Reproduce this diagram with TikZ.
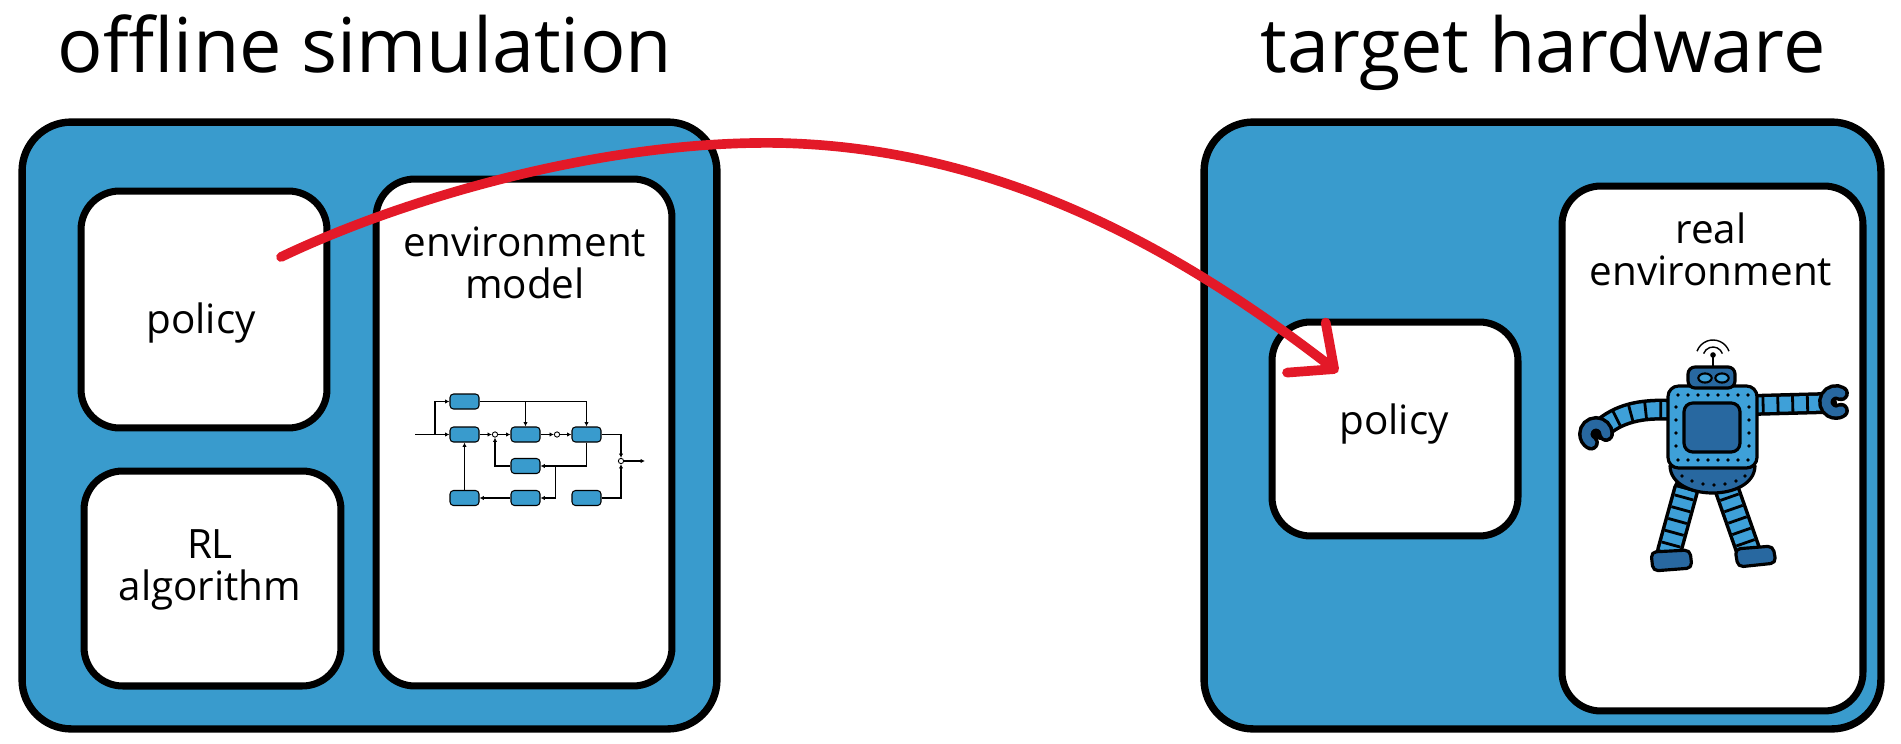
\documentclass[tikz,border=0pt]{standalone}
\usepackage{fontspec}
\setmainfont{Open Sans}
\usetikzlibrary{arrows.meta, decorations.markings, positioning}

\definecolor{simblue}{RGB}{57,155,205}
\definecolor{botlight}{RGB}{62,160,216}
\definecolor{botdark}{RGB}{40,104,160}
\definecolor{xred}{RGB}{227,25,40}

\tikzset{
  frame/.style={draw, line width=4.2pt, fill=simblue, rounded corners=28pt, inner sep=0pt},
  panel/.style={draw, line width=4pt, fill=white, rounded corners=22pt, inner sep=0pt},
  ttl/.style={font=\fontsize{43}{48}\selectfont},
  lbl/.style={font=\fontsize{23}{23.5}\selectfont, align=center},
  blk/.style={draw, line width=0.6pt, fill=simblue, rounded corners=2pt,
    minimum width=0.58cm, minimum height=0.3cm, inner sep=0pt},
  sumpt/.style={circle, draw, line width=0.5pt, fill=white, minimum size=3pt, inner sep=0pt},
  sig/.style={line width=0.6pt, -{Latex[length=2.5pt, width=2.5pt]}},
  xfer/.style={draw=xred, line width=5.5pt, line cap=round,
    -{Straight Barb[round, length=20pt, width=36pt]}},
  rob/.style={draw, line width=1.8pt, line join=round},
  stripes/.style={postaction={decorate, decoration={markings,
    mark=between positions #1 with {\draw[line width=1.6pt, black] (0,-5.5pt) -- (0,5.5pt);}}}}
}

\begin{document}
\begin{tikzpicture}[x=0.02cm, y=-0.02cm]
\useasboundingbox (0,0) rectangle (1901,744);

% titles
\node[ttl, anchor=base] (tsim) at (365,72) {offline simulation};
\node[ttl, anchor=base] (thw) at (1543,72) {target hardware};

% outer frames
\node[frame, minimum width=13.9cm, minimum height=12.14cm] (sim) at (369.5,425.5) {};
\node[frame, minimum width=13.54cm, minimum height=12.14cm] (hw) at (1542.5,425.5) {};

% panels inside the frames
\node[panel, minimum width=4.92cm, minimum height=4.74cm] (polL) at (204,309.5) {};
\node[panel, minimum width=5.14cm, minimum height=4.30cm] (rl) at (212.5,578.5) {};
\node[panel, minimum width=5.92cm, minimum height=10.14cm] (envm) at (524,432.5) {};
\node[panel, minimum width=4.92cm, minimum height=4.28cm] (polR) at (1395,429) {};
\node[panel, minimum width=6.02cm, minimum height=10.5cm] (envr) at (1712.5,448.5) {};

\node[lbl, anchor=base] (lpolL) at (201,333) {policy};
\node[lbl, anchor=base] (lrl) at (210,600) {RL\\algorithm};
\node[lbl, anchor=base] (lenvm) at (525,298) {environment\\model};
\node[lbl, anchor=base] (lpolR) at (1394,434) {policy};
\node[lbl, anchor=base] (lenvr) at (1711,285) {real\\environment};

% block diagram of the model
\node[blk] (b1) at (464.5,401.5) {};
\node[blk] (b2) at (464.5,434.5) {};
\node[blk] (b3) at (525.5,434.5) {};
\node[blk] (b4) at (586.5,434.5) {};
\node[blk] (b5) at (525.5,466) {};
\node[blk] (b6) at (464.5,498) {};
\node[blk] (b7) at (525.5,498) {};
\node[blk] (b8) at (586.5,498) {};
\node[sumpt] (s1) at (495,434.5) {};
\node[sumpt] (s2) at (557,434.5) {};
\node[sumpt] (s3) at (621,461) {};
\coordinate (in) at (415,434.5);
\coordinate (j1) at (435,434.5);
\coordinate (j3) at (555.7,466);
\coordinate (out) at (645,461);

\draw[sig] (in) -- (b2.west);
\draw[sig] (j1) |- (b1.west);
\draw[sig] (b2.east) -- (s1.west);
\draw[sig] (s1.east) -- (b3.west);
\draw[sig] (b5.west) -| (s1.south);
\draw[sig] (b3.east) -- (s2.west);
\draw[sig] (s2.east) -- (b4.west);
\draw[sig] (b1.east) -| (b4.north);
\draw[sig] (b3.north |- b1.east) -- (b3.north);
\draw[sig] (b4.south) |- (b5.east);
\draw[sig] (j3) |- (b7.east);
\draw[sig] (b7.west) -- (b6.east);
\draw[sig] (b6.north) -- (b2.south);
\draw[sig] (b4.east) -| (s3.north);
\draw[sig] (b8.east) -| (s3.south);
\draw[sig] (s3.east) -- (out);

% robot: legs and arms first
\draw[line width=15pt, line cap=round] (1686,490) -- (1669,552);
\draw[line width=11pt, botlight, stripes={0.12 and 0.9 step 0.19}] (1686,490) -- (1669,552);
\draw[line width=15pt, line cap=round] (1727,490) -- (1748,550);
\draw[line width=11pt, botlight, stripes={0.12 and 0.9 step 0.19}] (1727,490) -- (1748,550);
\draw[line width=12.5pt, line cap=round] (1672,410) .. controls (1640,408) and (1618,414) .. (1601,429);
\draw[line width=8.5pt, botlight, stripes={0.15 and 0.95 step 0.2}] (1672,410) .. controls (1640,408) and (1618,414) .. (1601,429);
\draw[line width=12.5pt, line cap=round] (1752,405) -- (1826,403);
\draw[line width=8.5pt, botlight, stripes={0.15 and 0.95 step 0.2}] (1752,405) -- (1826,403);

% hands
\draw[line width=9pt, line cap=round] (1836,402) ++(60:0.2cm) arc[start angle=60, end angle=300, radius=0.2cm];
\draw[line width=5pt, botdark, line cap=round] (1836,402) ++(60:0.2cm) arc[start angle=60, end angle=300, radius=0.2cm];
\draw[line width=9pt, line cap=round] (1596,434) ++(0:0.2cm) arc[start angle=0, end angle=240, radius=0.2cm];
\draw[line width=5pt, botdark, line cap=round] (1596,434) ++(0:0.2cm) arc[start angle=0, end angle=240, radius=0.2cm];

% feet
\filldraw[rob, fill=botdark, rounded corners=3pt] (1651,552) -- (1690,550) -- (1692,568) -- (1653,571) -- cycle;
\filldraw[rob, fill=botdark, rounded corners=3pt] (1735,549) -- (1773,546) -- (1776,563) -- (1738,567) -- cycle;

% pelvis
\filldraw[rob, fill=botdark] (1670,466) -- (1755,466) .. controls (1754,502) and (1671,502) .. (1670,466) -- cycle;
\foreach \x/\y in {1682/476,1692/481,1703/484,1714/485,1725/484,1736/481,1745/476}
  \fill (\x,\y) circle[radius=1.1pt];

% body
\filldraw[rob, fill=botlight, rounded corners=6pt] (1668,386) rectangle (1757,468);
\filldraw[rob, fill=botdark, rounded corners=5pt] (1684,403) rectangle (1740,452);
\foreach \x in {1678,1688,...,1748} {
  \fill (\x,395) circle[radius=1.1pt];
  \fill (\x,460) circle[radius=1.1pt];
}
\foreach \y in {407,420,433,446} {
  \fill (1676,\y) circle[radius=1.1pt];
  \fill (1749,\y) circle[radius=1.1pt];
}

% head and antenna
\filldraw[rob, fill=botdark, rounded corners=4pt] (1688,367) rectangle (1735,388);
\filldraw[line width=1.2pt, fill=botlight] (1705,378) ellipse[x radius=3.8pt, y radius=2.6pt];
\filldraw[line width=1.2pt, fill=botlight] (1722,378) ellipse[x radius=3.8pt, y radius=2.6pt];
\draw[line width=1.6pt] (1713,367) -- (1713,355);
\fill (1713,355) circle[radius=1.6pt];
\draw[line width=0.8pt] (1713,357) ++(20:0.2cm) arc[start angle=20, end angle=160, radius=0.2cm];
\draw[line width=0.8pt] (1713,357) ++(20:0.34cm) arc[start angle=20, end angle=160, radius=0.34cm];

% policy goes from simulation to hardware
\coordinate (src) at (281,257);
\coordinate (dst) at (1338,372);
\draw[xfer] (src) .. controls (400,200) and (600,140) .. (780,143)
  .. controls (1000,148) and (1180,250) .. (dst);
\end{tikzpicture}
\end{document}
